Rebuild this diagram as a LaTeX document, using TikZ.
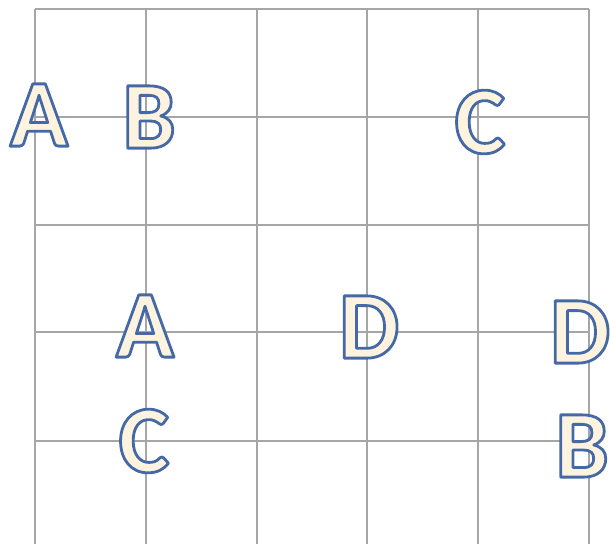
\documentclass[tikz,border=0pt]{standalone}
\usepackage{fontspec}
\setmainfont{Carlito}
\definecolor{cream}{HTML}{FDF3DF}
\definecolor{outl}{HTML}{4A6EA8}
\definecolor{gridc}{HTML}{A6A6A6}
\newcommand{\olet}[1]{\special{pdf:literal direct 2 Tr 2.8 w 1 j 0.27 0.41 0.65 RG}#1\special{pdf:literal direct 0 Tr}}
\begin{document}
\begin{tikzpicture}[x=1pt,y=-1pt,
  letter/.style={inner sep=0pt,text=cream,font=\fontsize{96}{96}\selectfont\bfseries},
  gridline/.style={draw=gridc,line width=1.3pt}]
\useasboundingbox (0,0) rectangle (610,544);
\foreach \x in {35,146,257,367,478,589}{\draw[gridline] (\x,9) -- (\x,544);}
\foreach \y in {9,117,225,332,441}{\draw[gridline] (35,\y) -- (589,\y);}
\node[letter] (a1) at (39,115) {\olet{A}};
\node[letter] (b1) at (149,117) {\olet{B}};
\node[letter] (c1) at (480,122) {\olet{C}};
\node[letter] (a2) at (145,326) {\olet{A}};
\node[letter] (d1) at (369,327) {\olet{D}};
\node[letter] (d2) at (580,332) {\olet{D}};
\node[letter] (c2) at (144,441) {\olet{C}};
\node[letter] (b2) at (582,446) {\olet{B}};
\end{tikzpicture}
\end{document}
